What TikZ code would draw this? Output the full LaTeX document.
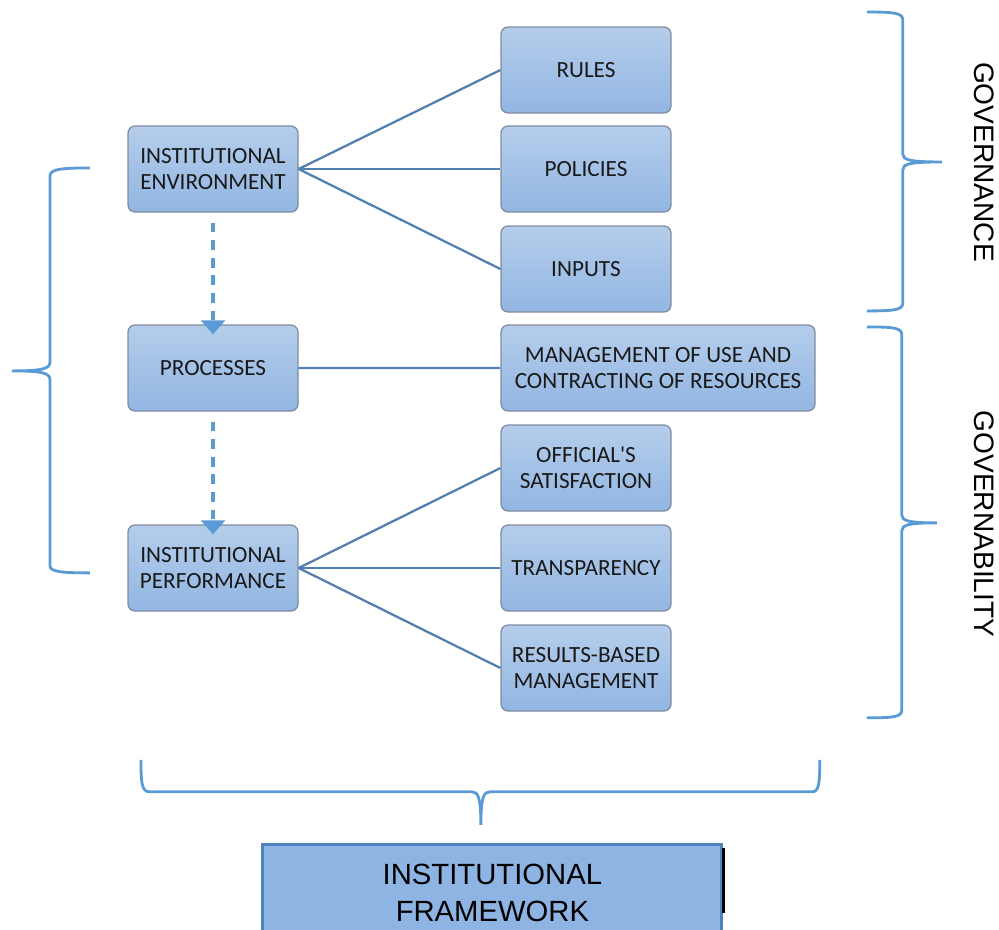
\documentclass[tikz,border=0pt]{standalone}
\usepackage{fontspec}
\setmainfont{Carlito}[Ligatures=TeXOff]
\newfontfamily\arialfont{Liberation Sans}
\usetikzlibrary{calc}
\usetikzlibrary{positioning}
\usetikzlibrary{arrows.meta}

\definecolor{boxtop}{RGB}{181,205,235}
\definecolor{boxbot}{RGB}{146,182,226}
\definecolor{boxline}{RGB}{128,140,158}
\definecolor{linkblue}{RGB}{80,127,176}
\definecolor{braceblue}{RGB}{91,155,213}
\definecolor{framefill}{RGB}{142,180,227}
\definecolor{frameline}{RGB}{79,129,189}

\begin{document}
\begin{tikzpicture}[line width = 1pt,
    box/.style = {draw = boxline, line width = 0.9pt, rounded corners = 5pt,
        top color = boxtop, bottom color = boxbot, align = center, text = black!90,
        minimum width = 4.25cm, minimum height = 2.15cm, inner sep = 2pt,
        font = \fontsize{16.5}{18.5}\selectfont},
    link/.style = {draw = linkblue, line width = 1.6pt},
    flow/.style = {draw = braceblue, line width = 2.2pt, dash pattern = on 7pt off 5.5pt,
        -{Triangle[width = 17pt, length = 10pt]}, shorten <= 0.25cm, shorten >= -0.25cm},
    brace/.style = {draw = braceblue, line width = 2pt},
    side/.style = {font = \arialfont\fontsize{20}{24}\selectfont, rotate = 270}]

    \useasboundingbox (0,0) rectangle (24.975,-23.225);

    \begin{scope}[on grid]
        % left column
        \node (env) at (5.325,-4.225) [box] {INSTITUTIONAL\\ENVIRONMENT};
        \node (proc) [box, below = 4.975cm of env] {PROCESSES};
        \node (perf) [box, below = 5cm of proc] {INSTITUTIONAL\\PERFORMANCE};

        % right column
        \node (policies) [box, right = 9.325cm of env] {POLICIES};
        \node (rules) [box, above = 2.475cm of policies] {RULES};
        \node (inputs) [box, below = 2.5cm of policies] {INPUTS};
        \node (mgmt) at (16.45,-9.2) [box, minimum width = 7.85cm] {MANAGEMENT OF USE AND\\CONTRACTING OF RESOURCES};
        \node (transp) [box, right = 9.325cm of perf] {TRANSPARENCY};
        \node (official) [box, above = 2.5cm of transp] {OFFICIAL'S\\SATISFACTION};
        \node (results) [box, below = 2.5cm of transp] {RESULTS-BASED\\MANAGEMENT};

        \draw[link] (env.east) -- (rules.west);
        \draw[link] (env.east) -- (policies.west);
        \draw[link] (env.east) -- (inputs.west);
        \draw[link] (proc.east) -- (mgmt.west);
        \draw[link] (perf.east) -- (official.west);
        \draw[link] (perf.east) -- (transp.west);
        \draw[link] (perf.east) -- (results.west);

        \draw[flow] (env) -- (proc);
        \draw[flow] (proc) -- (perf);
    \end{scope}

    \node (frame) at (12.31,-21.075) [anchor = north, draw = frameline, line width = 2.2pt,
        fill = framefill, minimum width = 11.475cm, minimum height = 2.4cm, align = center,
        font = \arialfont\fontsize{20.8}{26.5}\selectfont] {INSTITUTIONAL\\FRAMEWORK};
    \draw[black, line width = 2.2pt] ($(frame.north east)+(0,-0.12)$) -- ($(frame.north east)+(0,-1.75)$);

    \node (gov) at (24.6,-4.05) [side] {GOVERNANCE};
    \node (govy) at (24.6,-13.1) [side] {GOVERNABILITY};

    % braces, in pixels of the layout
    \begin{scope}[x = 0.025cm, y = -0.025cm]
        \draw[brace] (90,168) .. controls (62,168) and (50,169) .. (50,176) -- (50,362)
            .. controls (50,369) and (42,371) .. (12,371)
            .. controls (42,371) and (50,373) .. (50,380) -- (50,566)
            .. controls (50,572) and (62,573) .. (90,573);
        \draw[brace] (867,12) .. controls (895,12) and (903,13) .. (903,20) -- (903,154)
            .. controls (903,160) and (910,162) .. (942,162)
            .. controls (910,162) and (903,164) .. (903,170) -- (903,303)
            .. controls (903,310) and (895,311) .. (867,311);
        \draw[brace] (867,327) .. controls (895,327) and (902,328) .. (902,335) -- (902,515)
            .. controls (902,521) and (909,523) .. (937,523)
            .. controls (909,523) and (902,525) .. (902,531) -- (902,710)
            .. controls (902,717) and (895,718) .. (867,718);
        \draw[brace] (141,760) .. controls (141,785) and (142,792) .. (150,792) -- (472,792)
            .. controls (478,792) and (481,797) .. (481,825)
            .. controls (481,797) and (484,792) .. (490,792) -- (812,792)
            .. controls (819,792) and (820,785) .. (820,760);
    \end{scope}

\end{tikzpicture}
\end{document}
